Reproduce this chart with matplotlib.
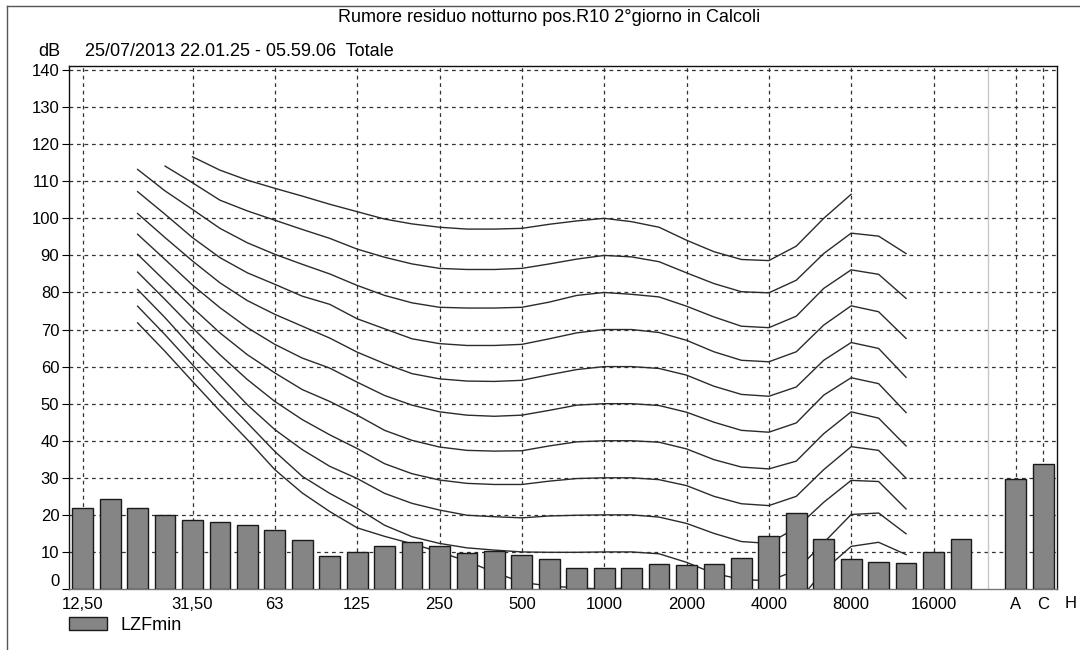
import matplotlib
matplotlib.use("Agg")
import matplotlib.pyplot as plt
from matplotlib.lines import Line2D

plt.rcParams['font.family'] = ['Liberation Sans', 'DejaVu Sans']

# ---------------- data ----------------
bands = ['12.5', '16', '20', '25', '31.5', '40', '50', '63', '80', '100', '125',
         '160', '200', '250', '315', '400', '500', '630', '800', '1000', '1250',
         '1600', '2000', '2500', '3150', '4000', '5000', '6300', '8000', '10000',
         '12500', '16000', '20000']
lzfmin = [21.8, 24.4, 21.8, 20.0, 18.5, 18.0, 17.2, 15.8, 13.1, 9.0, 10.1,
          11.7, 12.6, 11.6, 9.8, 10.2, 9.3, 8.2, 5.8, 5.7, 5.8,
          6.7, 6.6, 6.8, 8.4, 14.2, 20.4, 13.6, 8.2, 7.3,
          7.1, 10.0, 13.4]
total_labels = ['A', 'C']
total_values = [29.6, 33.7]

tick_labels = ['12,50', '31,50', '63', '125', '250', '500', '1000', '2000',
               '4000', '8000', '16000']
tick_bands = ['12.5', '31.5', '63', '125', '250', '500', '1000', '2000',
              '4000', '8000', '16000']

# equal-loudness contours (phon level, first band, values)
phon_levels = [0, 10, 20, 30, 40, 50, 60, 70, 80, 90, 100]
start_bands = ['20', '20', '20', '20', '20', '20', '20', '20', '20', '25', '31.5']
c000 = [71.8, 64.1, 56.0, 48.0, 40.3, 32.2, 25.9, 20.9, 16.5, 14.2, 12.2, 10.0,
        7.5, 4.5, 1.8, 0.8, 0.3, 0.0, 0.3, -0.3, -2.5, -5.0, -7.0, -7.5, -4.0,
        5.0, 11.5, 12.6, 9.3]
c010 = [76.3, 68.6, 60.5, 52.4, 44.8, 37.1, 30.4, 25.8, 21.8, 17.2, 14.1, 12.3,
        11.1, 10.5, 10.0, 9.9, 9.9, 10.0, 10.0, 9.5, 7.2, 4.2, 2.6, 2.2, 5.0,
        12.5, 20.1, 20.5, 14.9]
c020 = [80.8, 73.2, 65.0, 57.4, 49.7, 43.0, 37.6, 33.1, 29.8, 25.8, 23.1, 21.3,
        19.9, 19.5, 19.2, 19.7, 19.9, 20.0, 20.0, 19.4, 17.7, 15.0, 12.8, 12.3,
        16.5, 23.4, 29.3, 29.0, 21.6]
c030 = [85.5, 78.1, 70.5, 63.2, 56.5, 50.6, 45.7, 41.6, 37.9, 33.8, 31.1, 29.4,
        28.5, 28.2, 28.2, 29.1, 29.8, 30.0, 30.0, 29.5, 27.9, 25.0, 23.0, 22.5,
        25.0, 32.2, 38.4, 37.4, 29.9]
c040 = [90.3, 83.1, 75.9, 69.1, 63.2, 58.3, 53.8, 50.6, 46.9, 42.8, 40.1, 38.3,
        37.4, 37.2, 37.3, 38.6, 39.7, 40.0, 40.0, 39.6, 37.8, 34.9, 32.9, 32.4,
        34.5, 41.9, 47.8, 46.1, 38.6]
c050 = [95.7, 88.9, 82.0, 75.9, 70.5, 66.0, 62.3, 59.6, 55.8, 52.2, 49.6, 47.8,
        46.9, 46.6, 46.9, 48.2, 49.6, 50.0, 50.0, 49.5, 47.7, 45.0, 42.8, 42.3,
        44.8, 52.3, 57.0, 55.4, 47.6]
c060 = [101.3, 94.8, 88.5, 82.6, 77.8, 74.1, 70.9, 67.7, 63.9, 60.8, 58.1, 56.7,
        56.1, 56.0, 56.3, 57.8, 59.2, 60.0, 60.0, 59.5, 57.7, 54.7, 52.5, 52.0,
        54.5, 61.7, 66.5, 64.9, 57.1]
c070 = [107.2, 101.1, 94.8, 89.4, 85.3, 82.2, 79.0, 76.8, 72.9, 70.2, 67.5, 66.2,
        65.7, 65.7, 66.0, 67.5, 69.1, 70.0, 70.0, 69.2, 67.1, 64.0, 61.7, 61.3,
        64.0, 71.2, 76.4, 74.8, 67.6]
c080 = [113.2, 107.4, 102.4, 97.3, 93.4, 90.3, 87.6, 85.0, 81.9, 79.2, 77.2, 76.0,
        75.8, 75.8, 76.0, 77.4, 79.2, 80.0, 79.5, 78.8, 76.3, 73.4, 70.9, 70.5,
        73.6, 81.1, 86.1, 84.9, 78.4]
c090 = [114.1, 109.6, 104.9, 102.0, 99.5, 97.0, 94.6, 91.7, 89.5, 87.7, 86.5,
        86.2, 86.2, 86.5, 87.7, 89.0, 90.0, 89.6, 88.3, 85.3, 82.4, 80.2, 79.9,
        83.3, 90.5, 96.0, 95.2, 90.5]
c100 = [116.6, 113.0, 110.3, 108.1, 106.0, 103.8, 101.8, 99.8, 98.5, 97.6, 97.1,
        97.1, 97.3, 98.4, 99.3, 100.0, 99.1, 97.6, 94.1, 91.0, 88.9, 88.6, 92.5,
        100.0, 106.5]
contours = [c000, c010, c020, c030, c040, c050, c060, c070, c080, c090, c100]

title = 'Rumore residuo notturno pos.R10 2°giorno in Calcoli'
subtitle = '25/07/2013 22.01.25 - 05.59.06  Totale'

# ---------------- figure ----------------
W, H = 1080, 650
fig = plt.figure(figsize=(W / 100, H / 100), dpi=100)
ax = fig.add_axes([69 / W, 61 / H, (1057 - 69) / W, (589 - 66) / H])

n = len(bands)
x = list(range(n))
x_tot = [n + 1 + i for i in range(len(total_values))]

ax.set_xlim(-0.5, n + 2.5)
ax.set_ylim(0, 141.1)

grid_kw = dict(color='#333333', lw=0.9, dashes=(3, 3), zorder=1)
for v in range(10, 150, 10):
    ax.axhline(v, **grid_kw)
for b in tick_bands:
    ax.axvline(bands.index(b), **grid_kw)
for xt in x_tot:
    ax.axvline(xt, **grid_kw)
ax.axvline(n, color='#c8c8c8', lw=1.0, zorder=1)

for vals, sb in zip(contours, start_bands):
    i0 = bands.index(sb)
    xs = list(range(i0, i0 + len(vals)))
    ax.plot(xs, vals, color='#2b2b2b', lw=1.0, zorder=2)

bars = ax.bar(x, lzfmin, width=0.76, color='#858585', edgecolor='#1a1a1a',
              linewidth=1.0, zorder=3, label='LZFmin')
ax.bar(x_tot, total_values, width=0.76, color='#858585', edgecolor='#1a1a1a',
       linewidth=1.0, zorder=3)

ax.set_xticks([bands.index(b) for b in tick_bands] + x_tot)
ax.set_xticklabels(tick_labels + total_labels, fontsize=12)
ax.text(n + 3, -2.0, 'H', ha='center', va='top', fontsize=12, clip_on=False)
ax.tick_params(axis='x', length=0, pad=6)

ax.set_yticks(range(0, 150, 10))
ax.set_yticklabels([str(v) for v in range(0, 150, 10)], fontsize=12)
ax.tick_params(axis='y', direction='out', length=5, width=0.8, pad=2)
ax.get_yticklabels()[0].set_va('bottom')

for s in ['left', 'top', 'right']:
    ax.spines[s].set_color('#111111')
    ax.spines[s].set_linewidth(1.0)
ax.spines['bottom'].set_color('#777777')
ax.spines['bottom'].set_linewidth(1.0)

fig.text(549 / W, 1 - 17 / H, title, ha='center', va='center', fontsize=13)
fig.text(49 / W, 1 - 51 / H, 'dB', ha='center', va='center', fontsize=13)
fig.text(85 / W, 1 - 51 / H, subtitle, ha='left', va='center', fontsize=13)

# page frame lines
fig.add_artist(Line2D([7 / W, 1], [1 - 6 / H, 1 - 6 / H], color='#555555', lw=1.0))
fig.add_artist(Line2D([7 / W, 7 / W], [0, 1 - 6 / H], color='#555555', lw=1.0))

fig.legend(handles=[bars], labels=['LZFmin'], loc='upper left',
           bbox_to_anchor=(56 / W, 1 - 604 / H), frameon=False, fontsize=13,
           handlelength=2.1, handleheight=0.8, handletextpad=0.8,
           borderpad=0.2)

fig.savefig('out.png', dpi=100)
